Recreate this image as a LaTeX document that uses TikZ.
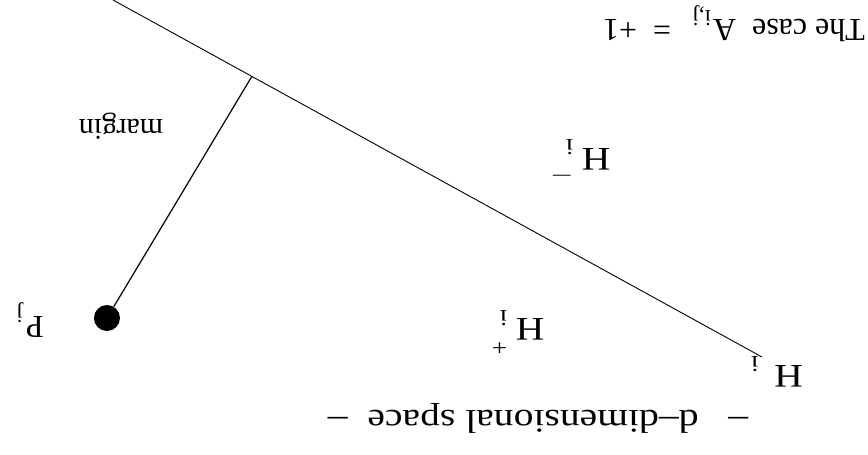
\documentclass[tikz,border=0pt]{standalone}
\usepackage{fontspec}
\setmainfont{Liberation Serif}
\usetikzlibrary{calc}

\newcommand{\smallidx}[1]{\fontsize{23}{23}\selectfont #1}
\newcommand{\subidx}[2][4pt]{\kern#1\raisebox{-0.28em}{\smallidx{#2}}}
\newcommand{\hlab}[1]{H\kern7pt\rlap{\raisebox{0.66em}{\smallidx{#1}}}\raisebox{-0.26em}{\smallidx{i}}}

\begin{document}
\begin{tikzpicture}[
    x=1pt, y=1pt,
    rotate=180, transform shape,
    font=\fontsize{32}{38}\selectfont,
    txt/.style={inner sep=0pt},
    wide/.style={txt, font=\fontsize{33}{40}\selectfont, xscale=1.2},
    pdot/.style={circle, fill=black, inner sep=0pt, minimum size=26pt},
]
\useasboundingbox (0,0) rectangle (868,455);

% Hyperplane H_i
\coordinate (hs) at (755,0);
\coordinate (he) at (106,357);
\draw[line width=0.9pt] (hs) -- (he);
\coordinate (foot) at ($(hs)!0.214!(he)$);

% Point P_j and its margin
\node[pdot] (pj) at (761,318) {};
\draw[line width=1.2pt] (pj) -- (foot);

% Labels
\node[txt] (pjlab) at (838,320) {P\subidx[3pt]{j}};
\node[txt, font=\fontsize{30}{36}\selectfont] (margin) at (747,126) {margin};
\node[wide] (hminus) at (280,162) {\hlab{$-$}};
\node[wide] (hplus) at (346,332) {\hlab{+}};
\node[wide] (hi) at (91,372) {H\subidx[13pt]{i}};
\node[wide] (space) at (330,418) {–\ \ \ d–dimensional space\ \ –};
\node[txt] (case) at (134,24) {The case \ A\subidx[2pt]{i,j} \ \,= \ +1};

\end{tikzpicture}
\end{document}
